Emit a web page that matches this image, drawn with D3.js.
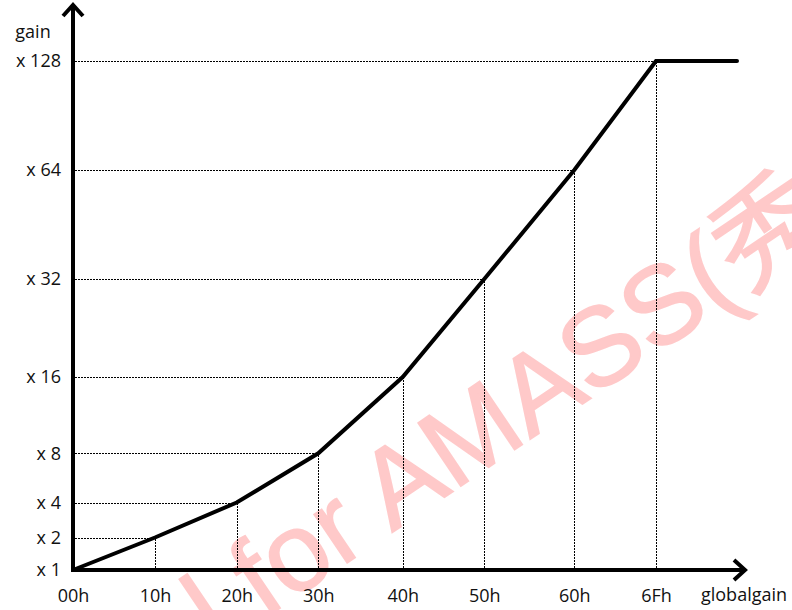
<!DOCTYPE html>
<html>
<head>
<meta charset="utf-8">
<script src="https://cdn.jsdelivr.net/npm/d3@7"></script>
<style>
  html, body { margin: 0; padding: 0; background: #fff; }
  svg { display: block; }
  text { font-family: "Open Sans", "Noto Sans", sans-serif; fill: #111; }
</style>
</head>
<body>
<svg id="chart" width="792" height="610"></svg>
<script>
// ---- data ----
const globalgain = [0x00, 0x10, 0x20, 0x30, 0x40, 0x50, 0x60, 0x6F, 0x7F];
const gain       = [1,    2,    4,    8,    16,   32,   64,   128,  128];
const xTickValues = [0x00, 0x10, 0x20, 0x30, 0x40, 0x50, 0x60, 0x6F];
const xTickLabels = ["00h", "10h", "20h", "30h", "40h", "50h", "60h", "6Fh"];
const yTickValues = [1, 2, 4, 8, 16, 32, 64, 128];
const yTickLabels = ["x 1", "x 2", "x 4", "x 8", "x 16", "x 32", "x 64", "x 128"];
const xAxisTitle = "globalgain";
const yAxisTitle = "gain";
const watermark = "l for AMASS(秀";

// ---- layout (hand-drawn, non-uniform axis spacing) ----
const xBreaks = [73, 155, 236.7, 318.3, 402.7, 484.3, 574.3, 656, 737];
const yBreaks = [570, 537.5, 502.5, 453.3, 377, 279, 170, 61];
const x = d3.scaleLinear().domain(globalgain).range(xBreaks);
const y = d3.scaleLinear().domain(yTickValues).range(yBreaks);
const x0 = x(0), y0 = y(1);
const crisp = v => Math.round(v) + 0.5;

const svg = d3.select("#chart");

// watermark (behind everything)
svg.append("text")
  .attr("transform", "translate(218,650) rotate(-34)")
  .attr("text-anchor", "start")
  .attr("xml:space", "preserve")
  .style("font-family", "'Liberation Sans', Arial, 'Noto Sans CJK JP', sans-serif")
  .style("font-size", "111px")
  .style("fill", "#ffc9c9")
  .style("stroke", "#ffc9c9")
  .style("stroke-width", 1.5)
  .text(watermark);

const pts = globalgain.map((g, i) => ({ g, v: gain[i] }));
const guides = pts.filter((d, i) => i > 0 && i < pts.length - 1);

// dotted guides
const guideG = svg.append("g")
  .attr("stroke", "#000").attr("stroke-width", 1).attr("stroke-dasharray", "2,1").attr("fill", "none")
  .attr("shape-rendering", "crispEdges");
guideG.selectAll("line.h").data(guides).join("line").attr("class", "h")
  .attr("x1", x0 + 2).attr("x2", d => x(d.g))
  .attr("y1", d => crisp(y(d.v))).attr("y2", d => crisp(y(d.v)));
guideG.selectAll("line.v").data(guides).join("line").attr("class", "v")
  .attr("x1", d => crisp(x(d.g))).attr("x2", d => crisp(x(d.g)))
  .attr("y1", y0 - 2).attr("y2", d => y(d.v));

// curve
svg.append("path")
  .datum(pts)
  .attr("fill", "none")
  .attr("stroke", "#000")
  .attr("stroke-width", 4)
  .attr("stroke-linejoin", "miter")
  .attr("stroke-linecap", "round")
  .attr("d", d3.line().x(d => x(d.g)).y(d => y(d.v)));

// axes via d3 axis generators (labels only)
const fmtX = d => xTickLabels[xTickValues.indexOf(d)];
const fmtY = d => yTickLabels[yTickValues.indexOf(d)];
const ax = svg.append("g").attr("transform", `translate(0,${y0})`)
  .call(d3.axisBottom(x).tickValues(xTickValues).tickFormat(fmtX).tickSize(0).tickPadding(19));
ax.select(".domain").remove();
ax.selectAll("text").style("font-size", "18px").style("font-family", "'Open Sans', sans-serif").attr("fill", "#111");

const ay = svg.append("g").attr("transform", `translate(61,0)`)
  .call(d3.axisLeft(y).tickValues(yTickValues).tickFormat(fmtY).tickSize(0).tickPadding(0));
ay.select(".domain").remove();
ay.selectAll("text").style("font-size", "18px").style("font-family", "'Open Sans', sans-serif").attr("fill", "#111");

// axis lines with arrowheads
const axisG = svg.append("g").attr("stroke", "#000").attr("stroke-width", 4).attr("fill", "none")
  .attr("stroke-linecap", "butt").attr("stroke-linejoin", "miter");
const xEnd = 745, yEnd = 5;
axisG.append("line").attr("x1", x0 - 2).attr("x2", xEnd - 2).attr("y1", y0).attr("y2", y0);
axisG.append("line").attr("x1", x0).attr("x2", x0).attr("y1", y0 + 2).attr("y2", yEnd + 2);
axisG.append("path").attr("d", `M${xEnd - 11},${y0 - 10}L${xEnd},${y0}L${xEnd - 11},${y0 + 10}`);
axisG.append("path").attr("d", `M${x0 - 10},${yEnd + 11}L${x0},${yEnd}L${x0 + 10},${yEnd + 11}`);

// axis titles
svg.append("text").attr("x", 744).attr("y", 601).attr("text-anchor", "middle")
  .style("font-size", "18px").text(xAxisTitle);
svg.append("text").attr("x", 33).attr("y", 37.5).attr("text-anchor", "middle")
  .style("font-size", "18px").text(yAxisTitle);
</script>
</body>
</html>
